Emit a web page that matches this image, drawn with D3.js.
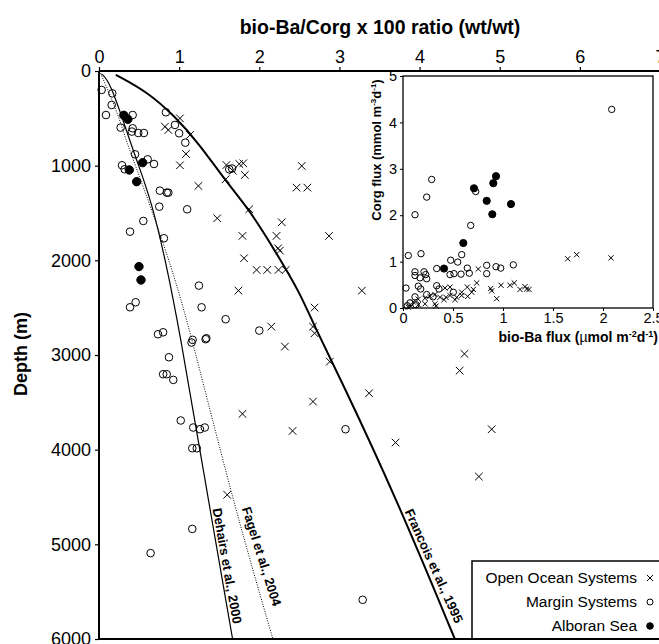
<!DOCTYPE html>
<html>
<head>
<meta charset="utf-8">
<script src="https://cdn.jsdelivr.net/npm/d3@7"></script>
<style>
  body { margin: 0; background: #fff; }
  svg { font-family: "Liberation Sans", Arial, sans-serif; }
</style>
</head>
<body>
<div id="chart"></div>
<script>
// main plot: [bio-Ba/Corg x 100, depth m]
const openOcean = [[1.01,500],[0.823,588],[0.865,623],[1.135,676],[1.085,876],[1.01,996],
  [1.59,993],[1.67,1053],[1.75,982],[1.80,975],[1.82,1098],[1.58,1144],
  [1.24,1214],[2.53,1003],[2.465,1232],[2.6,1232],[1.875,1460],[1.475,1556],
  [2.28,1598],[1.79,1742],[2.215,1742],[2.87,1742],[2.235,1873],[2.257,1897],[1.81,1978],[1.966,2101],[2.10,2101],
  [2.24,2101],[2.33,2101],[1.74,2320],[3.28,2320],[2.69,2499],[2.15,2700],[2.67,2700],[2.69,2770],
  [2.32,2911],[2.67,3492],[1.79,3622],[2.415,3802],[1.6,4477],[2.88,3070],
  [4.56,2988],[4.5,3165],[3.37,3404],[4.9,3784],[3.70,3925],[4.74,4284]]
const marginSys = [[0.033,200],[0.166,236],[0.158,359],[0.087,465],[0.42,465],[0.27,598],[0.42,605],[0.41,640],
  [0.49,655],[0.56,655],[0.45,880],[0.607,933],[0.686,982],[0.287,996],[0.32,1038],[0.835,436],[0.948,570],
  [1.0,658],[1.077,757],[1.625,1038],[1.66,1030],[0.76,1264],[0.846,1285],[0.865,1285],[0.752,1433],[1.10,1461],
  [0.553,1584],[0.387,1697],
  [0.81,1767],[1.247,2267],[0.457,2443],[0.387,2496],[1.28,2496],[1.58,2622],[2.0,2742],[0.736,2781],[0.80,2760],
  [1.168,2840],[1.155,2869],[1.34,2823],[1.33,2833],[0.873,3024],[0.80,3203],[0.845,3203],[0.927,3263],
  [1.02,3692],[1.176,3766],[1.26,3784],[1.32,3766],[1.164,3985],[1.22,3985],[1.164,4837],[0.644,5093],
  [3.076,3784],[3.29,5586]]
const alboran = [[0.31,468],[0.36,510],[0.545,968],[0.378,1045],[0.47,1169],[0.499,2066],[0.524,2207]]

// model curves: [ratio, depth]
const francois = [[0.21,40],[0.6,218],[0.95,480],[1.26,781],[1.57,1151],[1.88,1468],[2.215,1925],[2.51,2347],
  [2.69,2700],[3.0,3228],[3.71,4512],[4.44,6000]]
const dehairs = [[0.03,30],[0.14,113],[0.39,750],[0.47,940],[0.66,1394],[0.83,2000],[1.01,2767],[1.30,4213],[1.667,6000]]
const fagel = [[0.02,25],[0.22,412],[0.345,750],[0.43,940],[0.885,2000],[1.156,2805],[1.675,4560],[2.17,6000]]

// inset: [bio-Ba flux, Corg flux]
const insetOpen = [[1.647,1.06],[1.737,1.15],[2.08,1.08],[0.753,0.84],[0.737,0.54],[0.643,0.45],[0.47,0.45],
  [0.42,0.43],[0.877,0.42],[0.887,0.37],[0.98,0.49],[1.07,0.49],[1.113,0.54],[1.17,0.40],[1.22,0.46],[1.237,0.41],
  [1.26,0.40],[0.937,0.20],[0.703,0.40],[0.687,0.34],[0.587,0.34],[0.587,0.27],[0.537,0.23],[0.52,0.18],
  [0.647,0.25],[0.37,0.23],[0.43,0.23],[0.41,0.18],[0.32,0.29],[0.27,0.25],[0.22,0.21],[0.153,0.19],[0.103,0.13],
  [0.22,0.09],[0.153,0.07],[0.32,0.09],[0.33,0.04],[0.077,0.04],[0.053,0.02],[0.47,0.27]]
const insetMargin = [[2.087,4.28],[0.287,2.77],[0.237,2.39],[0.12,2.01],[0.727,2.51],[0.677,1.78],[0.053,1.13],
  [0.18,1.17],[0.587,1.15],[0.477,1.03],[0.547,0.99],[0.12,0.78],[0.12,0.70],[0.21,0.78],[0.227,0.72],[0.17,0.65],
  [0.237,0.63],[0.337,0.85],[0.47,0.72],[0.51,0.74],[0.58,0.73],[0.643,0.86],[0.663,0.75],[0.837,0.92],
  [0.837,0.74],[0.93,0.89],[0.977,0.86],[1.103,0.93],[0.03,0.43],[0.153,0.47],[0.177,0.41],[0.337,0.48],
  [0.36,0.41],[0.503,0.34],[0.12,0.24],[0.237,0.29],[0.07,0.11],[0.13,0.07],[0.30,0.24],[0.043,0.05]]
const insetAlboran = [[0.41,0.85],[0.603,1.40],[0.71,2.58],[0.837,2.31],[0.893,2.02],[0.903,2.69],[0.93,2.84],[1.08,2.24]]

const xTicks = [0,1,2,3,4,5,6,7]
const yTicks = [0,1000,2000,3000,4000,5000,6000]
const insetXTicks = [0,0.5,1,1.5,2,2.5]
const insetYTicks = [0,1,2,3,4,5]
const legendItems = ["Open Ocean Systems", "Margin Systems", "Alboran Sea"]

const W = 659, H = 644

svg = d3.select('#chart').append('svg')
  .attr('width', W).attr('height', H)
  .attr('viewBox', [0, 0, W, H])

x = d3.scaleLinear().domain([0, 7]).range([99, 660])
y = d3.scaleLinear().domain([0, 6000]).range([71, 639])

// title + axis label
svg.append('text')
  .attr('x', 380).attr('y', 34)
  .attr('text-anchor', 'middle')
  .style('font-size', '19.5px').style('font-weight', 'bold')
  .text('bio-Ba/Corg x 100 ratio (wt/wt)')

svg.append('text')
  .attr('transform', 'translate(27,354) rotate(-90)')
  .attr('text-anchor', 'middle')
  .style('font-size', '18px').style('font-weight', 'bold')
  .text('Depth (m)')

// axes
let topAxis = svg.append('g')
  .attr('transform', `translate(0,${y(0)})`)
  .call(d3.axisTop(x).tickValues(xTicks).tickSize(4).tickPadding(4).tickFormat(d3.format('d')))
let leftAxis = svg.append('g')
  .attr('transform', `translate(${x(0)},0)`)
  .call(d3.axisLeft(y).tickValues(yTicks).tickSize(4).tickPadding(4).tickFormat(d3.format('d')))
for (let ax of [topAxis, leftAxis]) {
  ax.select('.domain').remove()
  ax.selectAll('.tick text').style('font-size', '18px').style('font-family', 'Liberation Sans, Arial, sans-serif')
  ax.selectAll('.tick line').attr('stroke-width', 1.2)
}
svg.append('line').attr('x1', x(0)).attr('x2', x(7)).attr('y1', y(0)).attr('y2', y(0))
  .attr('stroke', '#000').attr('stroke-width', 2)
svg.append('line').attr('x1', x(0)).attr('x2', x(0)).attr('y1', y(0)).attr('y2', y(6000))
  .attr('stroke', '#000').attr('stroke-width', 2)

// curves
let line = d3.line().x(d => x(d[0])).y(d => y(d[1])).curve(d3.curveBasis)
svg.append('path').datum(francois).attr('d', line)
  .attr('fill', 'none').attr('stroke', '#000').attr('stroke-width', 2)
svg.append('path').datum(dehairs).attr('d', line)
  .attr('fill', 'none').attr('stroke', '#000').attr('stroke-width', 1.2)
svg.append('path').datum(fagel).attr('d', line)
  .attr('fill', 'none').attr('stroke', '#000').attr('stroke-width', 1).attr('stroke-dasharray', '1,1.5')

let curveLabels = [
  {text: 'Dehairs et al., 2000', at: [1.60, 5227], angle: 80},
  {text: 'Fagel et al., 2004', at: [2.03, 5127], angle: 72.5},
  {text: 'Francois et al., 1995', at: [4.18, 5227], angle: 65.7}
]
svg.selectAll('text.curvelabel')
  .data(curveLabels)
  .join('text')
    .attr('class', 'curvelabel')
    .attr('transform', d => `translate(${x(d.at[0])},${y(d.at[1])}) rotate(${d.angle})`)
    .attr('text-anchor', 'middle')
    .attr('dy', '0.35em')
    .style('font-size', '13px').style('font-weight', 'bold')
    .text(d => d.text)

// markers
function crosses(g, data, sx, sy, s, sw) {
  g.selectAll(null).data(data).join('path')
    .attr('d', d => {
      let cx = sx(d[0]), cy = sy(d[1])
      return `M${cx-s},${cy-s}L${cx+s},${cy+s}M${cx-s},${cy+s}L${cx+s},${cy-s}`
    })
    .attr('stroke', '#000').attr('stroke-width', sw).attr('fill', 'none')
}
function circles(g, data, sx, sy, r, filled) {
  g.selectAll(null).data(data).join('circle')
    .attr('cx', d => sx(d[0])).attr('cy', d => sy(d[1])).attr('r', r)
    .attr('fill', filled ? '#000' : 'none')
    .attr('stroke', '#000').attr('stroke-width', 1)
}

let mainPts = svg.append('g')
crosses(mainPts.append('g'), openOcean, x, y, 3.8, 1)
circles(mainPts.append('g'), marginSys, x, y, 3.8, false)
circles(mainPts.append('g'), alboran, x, y, 4.2, true)

// inset
xi = d3.scaleLinear().domain([0, 2.5]).range([403, 653])
yi = d3.scaleLinear().domain([0, 5]).range([308, 76])

let inset = svg.append('g')
inset.append('rect').attr('x', xi(0)).attr('y', yi(5)).attr('width', xi(2.5) - xi(0)).attr('height', yi(0) - yi(5))
  .attr('fill', '#fff').attr('stroke', '#000').attr('stroke-width', 1.3)
let ixAxis = inset.append('g').attr('transform', `translate(0,${yi(0)})`)
  .call(d3.axisBottom(xi).tickValues(insetXTicks).tickSize(3).tickPadding(2).tickFormat(d3.format('~g')))
let iyAxis = inset.append('g').attr('transform', `translate(${xi(0)},0)`)
  .call(d3.axisLeft(yi).tickValues(insetYTicks).tickSize(3).tickPadding(3).tickFormat(d3.format('~g')))
for (let ax of [ixAxis, iyAxis]) {
  ax.select('.domain').remove()
  ax.selectAll('.tick text').style('font-size', '14.5px').style('font-family', 'Liberation Sans, Arial, sans-serif')
}

let yTitle = inset.append('text')
  .attr('transform', 'translate(381,150) rotate(-90)')
  .attr('text-anchor', 'middle')
  .style('font-size', '13px').style('font-weight', 'bold')
yTitle.append('tspan').text('Corg flux (mmol m')
yTitle.append('tspan').text('-3').attr('dy', -5).style('font-size', '8px')
yTitle.append('tspan').text('d').attr('dy', 5)
yTitle.append('tspan').text('-1').attr('dy', -5).style('font-size', '8px')
yTitle.append('tspan').text(')').attr('dy', 5)

let xTitle = inset.append('text')
  .attr('x', 658).attr('y', 342)
  .attr('text-anchor', 'end')
  .style('font-size', '14px').style('font-weight', 'bold')
xTitle.append('tspan').text('bio-Ba flux (')
xTitle.append('tspan').text('\u00b5').style('font-weight', 'normal')
xTitle.append('tspan').text('mol m')
xTitle.append('tspan').text('-2').attr('dy', -5).style('font-size', '9px')
xTitle.append('tspan').text('d').attr('dy', 5)
xTitle.append('tspan').text('-1').attr('dy', -5).style('font-size', '9px')
xTitle.append('tspan').text(')').attr('dy', 5)

crosses(inset.append('g'), insetOpen, xi, yi, 2.6, 1)
circles(inset.append('g'), insetMargin, xi, yi, 3.2, false)
circles(inset.append('g'), insetAlboran, xi, yi, 3.6, true)

// legend
let legend = svg.append('g')
legend.append('rect').attr('x', 472).attr('y', 561).attr('width', 200).attr('height', 78)
  .attr('fill', '#fff').attr('stroke', '#000').attr('stroke-width', 1.5)
legend.selectAll('text')
  .data(legendItems)
  .join('text')
    .attr('x', 637)
    .attr('y', (d, i) => 583 + i * 24)
    .attr('text-anchor', 'end')
    .style('font-size', '15.5px')
    .text(d => d)
let lg = legend.append('g')
crosses(lg, [[0, 0]], v => 650 + v, v => 578 + v, 3, 1)
circles(lg, [[0, 0]], v => 650 + v, v => 602 + v, 3, false)
circles(lg, [[0, 0]], v => 650 + v, v => 626 + v, 3.3, true)
svg.append('line').attr('x1', x(0)).attr('x2', W).attr('y1', y(6000)).attr('y2', y(6000))
  .attr('stroke', '#000').attr('stroke-width', 2)
</script>
</body>
</html>
